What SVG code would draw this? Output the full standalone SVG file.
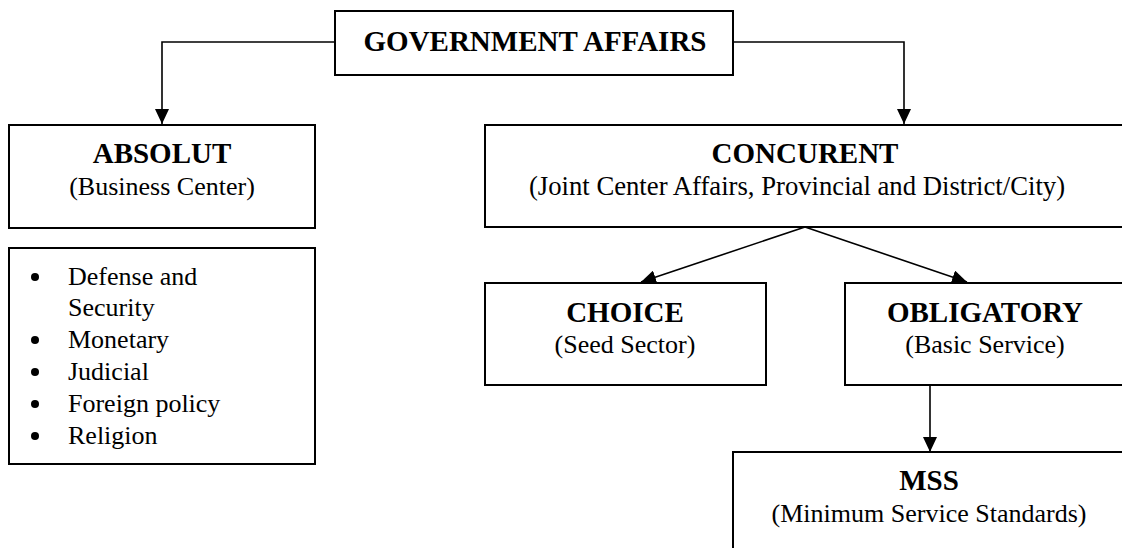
<svg xmlns="http://www.w3.org/2000/svg" width="1122" height="548" viewBox="0 0 1122 548">
<style>
.box{fill:#fff;stroke:#000;stroke-width:2}
.t{font-family:"Liberation Serif","Times New Roman",serif;fill:#000;text-anchor:middle}
.b{font-weight:bold;font-size:29px}
.s{font-size:26px}
.li{font-family:"Liberation Serif","Times New Roman",serif;font-size:26px;fill:#000}
.c{fill:none;stroke:#000;stroke-width:1.6}
</style>
<defs>
<marker id="arr" viewBox="0 0 15 14" refX="15" refY="7" markerWidth="15" markerHeight="14" markerUnits="userSpaceOnUse" orient="auto">
<path d="M0,0 L15,7 L0,14 z" fill="#000"/>
</marker>
</defs>
<rect width="1122" height="548" fill="#fff"/>
<g id="connectors">
<path class="c" d="M335,42 H162 V124" marker-end="url(#arr)"/>
<path class="c" d="M733,42 H904 V124" marker-end="url(#arr)"/>
<path class="c" d="M805,227 L641,282" marker-end="url(#arr)"/>
<path class="c" d="M805,227 L967,282" marker-end="url(#arr)"/>
<path class="c" d="M930,385 V452" marker-end="url(#arr)"/>
</g>
<g id="gov">
<rect class="box" x="335" y="11" width="398" height="64"/>
<text class="t b" x="535" y="51">GOVERNMENT AFFAIRS</text>
</g>
<g id="absolut">
<rect class="box" x="9" y="125" width="306" height="103"/>
<text class="t b" x="162" y="163">ABSOLUT</text>
<text class="t s" x="162" y="195">(Business Center)</text>
</g>
<g id="absolut-list">
<rect class="box" x="9" y="248" width="306" height="216"/>
<g fill="#000">
<circle cx="35" cy="277" r="4"/>
<circle cx="35" cy="340" r="4"/>
<circle cx="35" cy="372" r="4"/>
<circle cx="35" cy="404" r="4"/>
<circle cx="35" cy="436" r="4"/>
</g>
<text class="li" x="68" y="285">Defense and</text>
<text class="li" x="68" y="316">Security</text>
<text class="li" x="68" y="348">Monetary</text>
<text class="li" x="68" y="380">Judicial</text>
<text class="li" x="68" y="412">Foreign policy</text>
<text class="li" x="68" y="444">Religion</text>
</g>
<g id="concurent">
<rect class="box" x="485" y="125" width="640" height="102"/>
<text class="t b" x="805" y="163">CONCURENT</text>
<text class="t" style="font-size:26.7px" x="797" y="195">(Joint Center Affairs, Provincial and District/City)</text>
</g>
<g id="choice">
<rect class="box" x="485" y="283" width="281" height="102"/>
<text class="t b" x="625" y="322">CHOICE</text>
<text class="t s" x="625" y="353">(Seed Sector)</text>
</g>
<g id="obligatory">
<rect class="box" x="845" y="283" width="280" height="102"/>
<text class="t b" x="985" y="322">OBLIGATORY</text>
<text class="t s" x="985" y="353">(Basic Service)</text>
</g>
<g id="mss">
<rect class="box" x="733" y="452" width="392" height="110"/>
<text class="t b" x="929" y="490">MSS</text>
<text class="t s" x="929" y="522">(Minimum Service Standards)</text>
</g>
</svg>
